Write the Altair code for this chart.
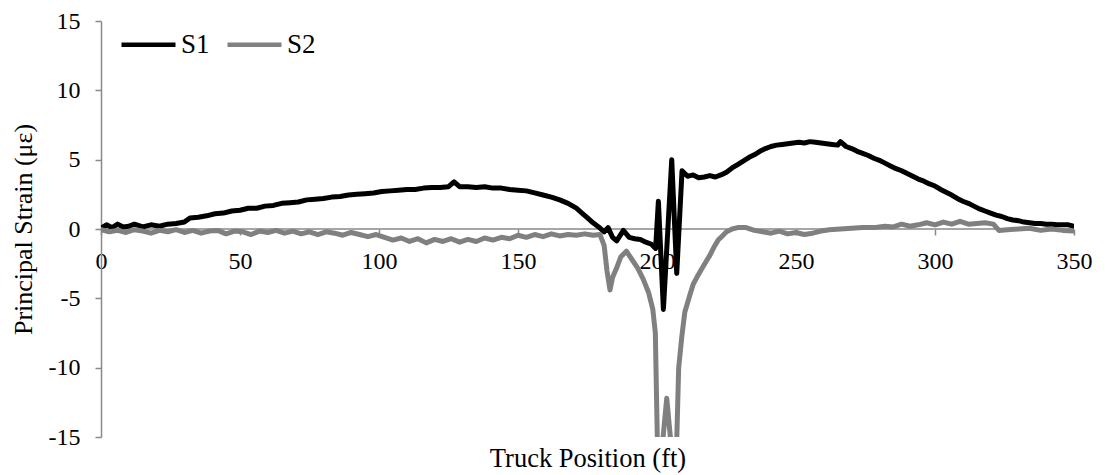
import altair as alt
import pandas as pd

s1_x = [0, 2, 4, 6, 8, 10, 12, 15, 18, 21, 24, 27, 30, 32, 35, 38, 41, 44, 47, 50, 53, 56, 59, 62, 65, 68,
        71, 74, 77, 80, 83, 86, 89, 92, 95, 98, 101, 104, 107, 110, 113, 116, 119, 122, 125, 127, 129, 132,
        135, 138, 141, 144, 147, 150, 153, 156, 159, 162, 165, 168, 171, 173, 175, 177, 179, 181, 182.4, 184,
        185.5, 187.9, 190, 192, 194, 196, 198, 199.5, 200.5, 202.3, 205.3, 207.1, 209, 211, 213, 215, 217,
        219, 221, 223, 225, 227, 229, 231, 233, 235, 237, 239, 241, 243, 245, 247, 249, 251, 253, 255, 257,
        259, 261, 263, 265, 266, 268, 270, 272, 274, 276, 278, 280, 282, 284, 286, 288, 290, 292, 294, 296,
        298, 300, 302, 304, 306, 308, 310, 312, 314, 316, 318, 320, 322, 324, 326, 328, 330, 332, 334, 336,
        338, 340, 342, 344, 346, 348, 350]
s1_y = [0.05, 0.3, 0.1, 0.35, 0.15, 0.2, 0.35, 0.15, 0.3, 0.2, 0.35, 0.4, 0.5, 0.8, 0.85, 0.95, 1.1, 1.15,
        1.3, 1.35, 1.5, 1.5, 1.65, 1.7, 1.85, 1.9, 1.95, 2.1, 2.15, 2.2, 2.3, 2.35, 2.45, 2.5, 2.55, 2.6, 2.7,
        2.75, 2.8, 2.85, 2.85, 2.95, 3.0, 3.0, 3.05, 3.4, 3.05, 3.05, 3.0, 3.05, 2.95, 2.95, 2.85, 2.8, 2.75,
        2.6, 2.45, 2.3, 2.1, 1.85, 1.5, 1.15, 0.8, 0.45, 0.15, -0.2, 0.1, -0.6, -0.85, -0.1, -0.6, -0.7,
        -0.75, -0.95, -1.1, -1.4, 2.0, -5.8, 5.0, -3.2, 4.2, 3.8, 3.9, 3.7, 3.75, 3.85, 3.75, 3.9, 4.1, 4.4,
        4.65, 4.9, 5.15, 5.35, 5.6, 5.8, 5.95, 6.05, 6.1, 6.15, 6.2, 6.25, 6.2, 6.3, 6.25, 6.2, 6.15, 6.1,
        6.05, 6.3, 5.95, 5.8, 5.6, 5.45, 5.3, 5.1, 4.95, 4.75, 4.55, 4.35, 4.2, 4.0, 3.8, 3.6, 3.45, 3.25,
        3.1, 2.85, 2.65, 2.45, 2.2, 2.0, 1.85, 1.65, 1.45, 1.3, 1.15, 1.0, 0.9, 0.75, 0.65, 0.6, 0.5, 0.45,
        0.4, 0.4, 0.35, 0.35, 0.3, 0.3, 0.3, 0.2]

s2_x = [0, 3, 6, 9, 12, 15, 18, 21, 24, 27, 30, 33, 36, 39, 42, 45, 48, 51, 54, 57, 60, 63, 66, 69, 72, 75,
        78, 81, 84, 87, 90, 93, 96, 99, 102, 105, 108, 111, 114, 117, 120, 123, 126, 129, 132, 135, 138, 141,
        144, 147, 150, 153, 156, 159, 162, 165, 168, 171, 174, 177, 179.5, 181, 182, 183.1, 184, 185.5, 187,
        189, 191, 193, 195, 197, 198.5, 199.4, 200.2, 201.5, 203.5, 205.5, 207, 207.8, 208.9, 210, 211.9,
        213, 214.3, 216, 217.5, 219, 220.5, 222, 223.5, 225, 227, 229, 232, 235, 238, 241, 244, 247, 250,
        253, 256, 259, 262, 266, 270, 274, 278, 282, 285, 288, 291, 294, 297, 300, 303, 306, 309, 312, 315,
        318, 321, 323, 326, 330, 334, 338, 342, 346, 350]
s2_y = [-0.05, -0.2, -0.1, -0.25, -0.05, -0.15, -0.3, -0.1, -0.2, -0.05, -0.25, -0.1, -0.3, -0.15, -0.1,
        -0.35, -0.15, -0.2, -0.4, -0.15, -0.25, -0.1, -0.3, -0.15, -0.35, -0.2, -0.4, -0.2, -0.3, -0.45,
        -0.25, -0.4, -0.55, -0.4, -0.6, -0.8, -0.65, -0.9, -0.7, -1.0, -0.75, -0.9, -0.7, -0.95, -0.75,
        -0.9, -0.65, -0.8, -0.6, -0.7, -0.45, -0.6, -0.4, -0.55, -0.35, -0.5, -0.4, -0.45, -0.35, -0.45,
        -0.4, -1.2, -3.0, -4.4, -3.5, -2.8, -2.0, -1.6, -2.2, -2.8, -3.6, -4.6, -5.8, -7.5, -16, -16.5,
        -12.2, -16.5, -16, -10, -7.8, -6.0, -4.7, -4.0, -3.5, -2.9, -2.4, -1.9, -1.3, -0.8, -0.5, -0.2, 0.0,
        0.1, 0.1, -0.1, -0.2, -0.3, -0.15, -0.35, -0.25, -0.4, -0.3, -0.15, -0.05, 0.0, 0.05, 0.1, 0.1, 0.2,
        0.15, 0.35, 0.2, 0.3, 0.45, 0.3, 0.5, 0.35, 0.55, 0.35, 0.4, 0.45, 0.35, -0.1, -0.05, 0.0, 0.05,
        -0.1, 0.0, -0.1, -0.15]

series_names = ["S1", "S2"]
series_colors = ["#000000", "#808080"]
x_ticks = [0, 50, 100, 150, 200, 250, 300, 350]
y_ticks = [-15, -10, -5, 0, 5, 10, 15]

df = pd.concat([
    pd.DataFrame({"pos": s1_x, "strain": s1_y, "series": "S1"}),
    pd.DataFrame({"pos": s2_x, "strain": s2_y, "series": "S2"}),
])

FONT = "Liberation Serif"
AX = "#898989"
W, H = 973, 416

zero = alt.Chart(pd.DataFrame({"z": [0]})).mark_rule(color=AX, strokeWidth=1.5).encode(
    y=alt.Y("z:Q", scale=alt.Scale(domain=[-15, 15], nice=False), axis=None),
    x=alt.value(0), x2=alt.value(W)
)

lines = alt.Chart(df).mark_line(strokeWidth=5, clip=True, strokeJoin="round", strokeCap="round").encode(
    x=alt.X("pos:Q", scale=alt.Scale(domain=[0, 350], nice=False),
            axis=alt.Axis(values=x_ticks, title="Truck Position (ft)", orient="bottom", offset=-(H // 2),
                          domain=False, grid=False, tickColor=AX, tickSize=6, tickWidth=1.5,
                          labelFont=FONT, labelFontSize=24, labelColor="#000000",
                          labelExpr="'' + datum.value",
                          labelBaseline="alphabetic", labelPadding=33, labelFlush=False,
                          titleFont=FONT, titleFontSize=26.5, titleFontWeight="normal", titleColor="#000000",
                          titleBaseline="alphabetic", titleY=237)),
    y=alt.Y("strain:Q", scale=alt.Scale(domain=[-15, 15], nice=False),
            axis=alt.Axis(values=y_ticks, title="Principal Strain (\u03bc\u03b5)", grid=False,
                          domainColor=AX, domainWidth=1.5, tickColor=AX, tickSize=6, tickWidth=1.5,
                          labelFont=FONT, labelFontSize=24, labelColor="#000000", labelPadding=15,
                          labelExpr="'' + datum.value",
                          titleFont=FONT, titleFontSize=26, titleFontWeight="normal", titleColor="#000000",
                          titleBaseline="alphabetic", titleX=-70)),
    color=alt.Color("series:N", scale=alt.Scale(domain=series_names, range=series_colors),
                    legend=alt.Legend(title=None, orient="none", legendX=18, legendY=-6,
                                      direction="horizontal", symbolType="stroke", symbolSize=2916,
                                      symbolStrokeWidth=4.5, labelFont=FONT, labelFontSize=27,
                                      labelColor="#000000", labelOffset=3, columnPadding=8)),
    order=alt.Order("series:N")
)

chart = alt.layer(zero, lines).resolve_axis(y="independent").properties(
    width=W, height=H,
    autosize=alt.AutoSizeParams(type="none"),
    padding={"left": 93, "top": 13, "right": 25, "bottom": 36},
    background="white"
).configure(font=FONT).configure_view(stroke=None).configure_axis(
    labelFont=FONT, titleFont=FONT).configure_legend(labelFont=FONT)

chart.save("out.html", embed_options={"renderer": "svg", "actions": False})
